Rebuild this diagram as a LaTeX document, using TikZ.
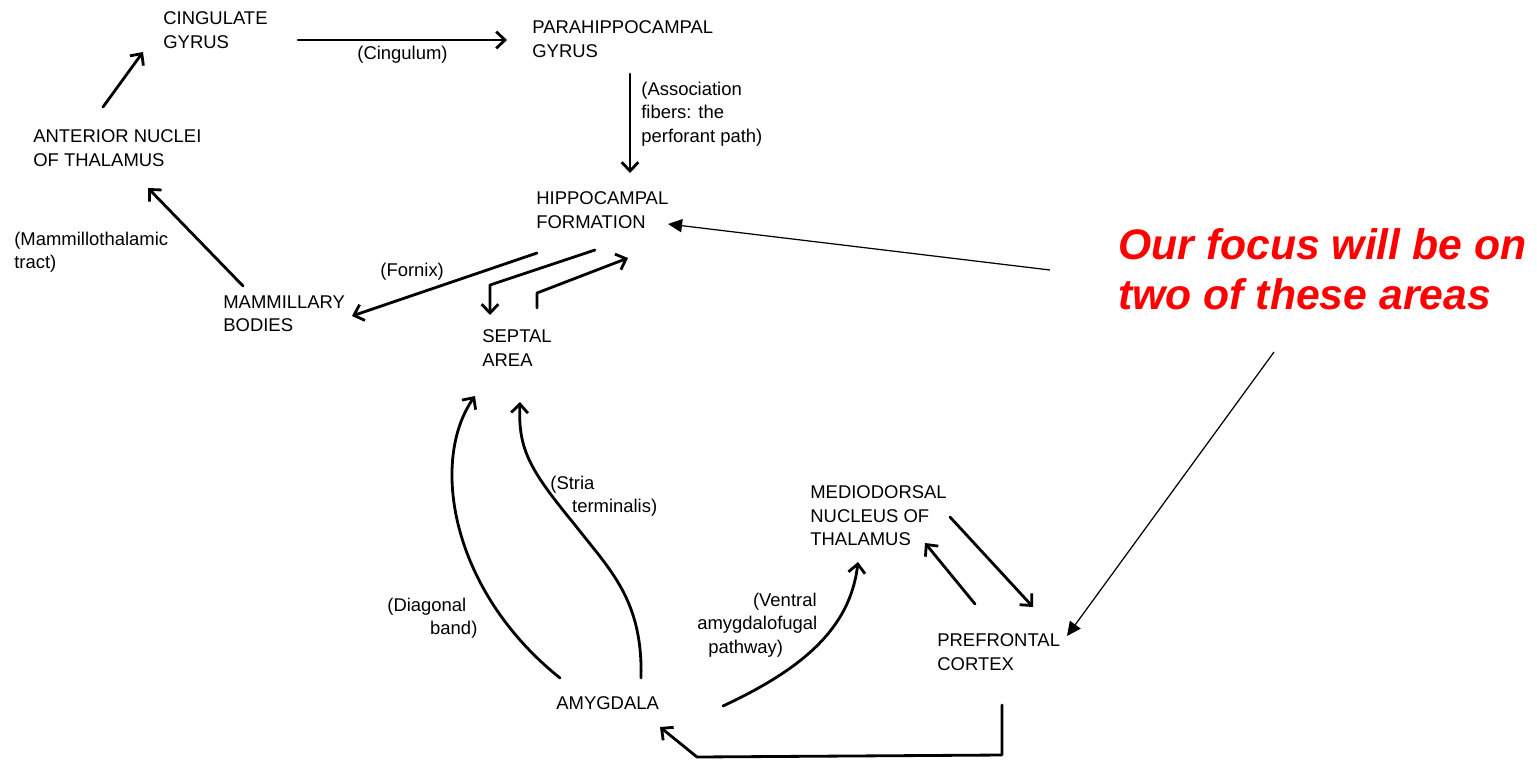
\documentclass[tikz,border=0pt]{standalone}
\usepackage{fontspec}
\setmainfont{Liberation Sans}
\usetikzlibrary{arrows.meta}
\begin{document}
\begin{tikzpicture}[x=0.02cm,y=-0.02cm,
  lbl/.style={anchor=west,inner sep=0pt,align=left,font=\fontsize{10.5}{13.3}\selectfont},
  arr/.style={line width=1.6pt,-{Straight Barb[length=5pt,width=9.5pt]},line cap=round,line join=round},
  note/.style={line width=0.7pt,-{Triangle[length=8pt,width=7.5pt]}},
  focus/.style={anchor=north west,inner sep=0pt,align=left,text=red,font=\fontsize{24.3}{28.35}\selectfont\bfseries\itshape}
]
\useasboundingbox (0,0) rectangle (1537,761);
% nodes
\node[lbl] (cing) at (163,30) {CINGULATE\\GYRUS};
\node[lbl] (para) at (532,39) {PARAHIPPOCAMPAL\\GYRUS};
\node[lbl] (ant) at (33,148) {ANTERIOR NUCLEI\\OF THALAMUS};
\node[lbl] (hippo) at (536,210) {HIPPOCAMPAL\\FORMATION};
\node[lbl] (mamm) at (223,314) {MAMMILLARY\\BODIES};
\node[lbl] (sept) at (482,348) {SEPTAL\\AREA};
\node[lbl] (md) at (810,516) {MEDIODORSAL\\NUCLEUS OF\\THALAMUS};
\node[lbl] (pfc) at (937,652) {PREFRONTAL\\CORTEX};
\node[lbl] (amyg) at (556,703) {AMYGDALA};
% connector labels
\node[lbl] (cinglab) at (357,55) {(Cingulum)};
\node[lbl] (assoclab) at (641,114) {(Association\\fibers: the\\perforant path)};
\node[lbl] (mtlab) at (14,252) {(Mammillothalamic\\tract)};
\node[lbl] (fornixlab) at (380,272) {(Fornix)};
\node[lbl] (strialab) at (550,496) {(Stria\\\hspace*{12.4pt}terminalis)};
\node[lbl] (diaglab) at (387,618) {(Diagonal\\\hspace*{24.4pt}band)};
\node[lbl] (ventlab) at (697,625) {\hspace*{31.7pt}(Ventral\\amygdalofugal\\\hspace*{6.2pt}pathway)};
\node[focus] (focus) at (1118,228) {Our focus will be on\\two of these areas};
% connector ends
\coordinate (antT) at (103,107);  \coordinate (cingB) at (143,52);
\coordinate (cingE) at (298,40);  \coordinate (paraW) at (507,40);
\coordinate (paraB) at (630,74);  \coordinate (hippoT) at (630,173);
\coordinate (mammT) at (243,286); \coordinate (antB) at (148,188);
\coordinate (fxS) at (537,253);   \coordinate (fxE) at (352,316);
\coordinate (hsS) at (595,250);   \coordinate (hsK) at (490,285); \coordinate (hsE) at (490,315);
\coordinate (shS) at (537,308);   \coordinate (shK) at (537,293); \coordinate (shE) at (628,258);
\coordinate (dgS) at (560,678);   \coordinate (dgE) at (475,396);
\coordinate (stS) at (641,678);   \coordinate (stM) at (575,525); \coordinate (stE) at (520,402);
\coordinate (vaS) at (723,706);   \coordinate (vaE) at (858,562);
\coordinate (mdS) at (950,517);   \coordinate (pfcT) at (1033,607);
\coordinate (pfS) at (975,604);   \coordinate (mdE) at (925,543);
\coordinate (pfB) at (1002,705);  \coordinate (k1) at (1002,755); \coordinate (k2) at (697,757); \coordinate (amE) at (660,727);
\coordinate (n1S) at (1050,270);  \coordinate (n1E) at (668,224);
\coordinate (n2S) at (1274,352);  \coordinate (n2E) at (1067,636);
% connectors
\draw[arr] (antT) -- (cingB);
\draw[arr] (cingE) -- (paraW);
\draw[arr] (paraB) -- (hippoT);
\draw[arr] (mammT) -- (antB);
\draw[arr] (fxS) -- (fxE);
\draw[arr] (hsS) -- (hsK) -- (hsE);
\draw[arr] (shS) -- (shK) -- (shE);
\draw[arr] (dgS) .. controls (450,590) and (430,460) .. (dgE);
\draw[arr] (stS) .. controls (643,600) and (610,570) .. (stM) .. controls (530,470) and (518,450) .. (stE);
\draw[arr] (vaS) .. controls (800,670) and (850,630) .. (vaE);
\draw[arr] (mdS) -- (pfcT);
\draw[arr] (pfS) -- (mdE);
\draw[arr] (pfB) -- (k1) -- (k2) -- (amE);
\draw[note] (n1S) -- (n1E);
\draw[note] (n2S) -- (n2E);
\end{tikzpicture}
\end{document}
